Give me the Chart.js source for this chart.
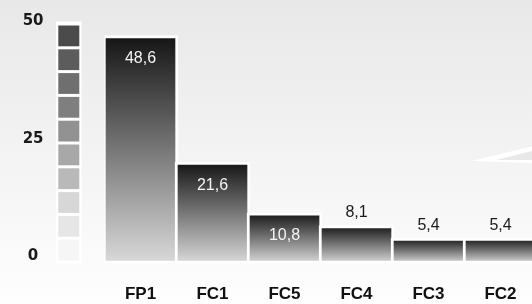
<!DOCTYPE html>
<html>
<head>
<meta charset="utf-8">
<script src="https://cdn.jsdelivr.net/npm/chart.js@4/dist/chart.umd.min.js"></script>
<style>
  html, body { margin: 0; padding: 0; overflow: hidden; background: #fff; }
  #wrap { width: 540px; height: 304px; }
</style>
</head>
<body>
<div id="wrap"><canvas id="c"></canvas></div>
<script>
const categories = ['FP1', 'FC1', 'FC5', 'FC4', 'FC3', 'FC2'];
const values = [48.6, 21.6, 10.8, 8.1, 5.4, 5.4];
const yTicks = [0, 25, 50];
// decorative scale column, bottom to top
const stepColors = ['#f6f6f6', '#e6e6e6', '#d7d7d7', '#b9b9b9', '#a8a8a8', '#929292', '#7f7f7f', '#6f6f6f', '#5c5c5c', '#4b4b4b'];

const backdrop = {
    id: 'backdrop',
    beforeDraw(chart) {
        const ctx = chart.ctx;
        const g = ctx.createLinearGradient(0, 0, 0, chart.height);
        g.addColorStop(0, '#e8e8e8');
        g.addColorStop(1, '#fefefe');
        ctx.save();
        ctx.fillStyle = g;
        ctx.fillRect(0, 0, chart.width, chart.height);
        ctx.restore();
    },
    beforeDatasetsDraw(chart) {
        const ctx = chart.ctx;
        const y = chart.scales.y;
        const left = chart.chartArea.left;
        const top = y.getPixelForValue(50) - 5;
        const bottom = y.getPixelForValue(0) - 1.5;
        ctx.save();
        ctx.fillStyle = '#ffffff';
        ctx.fillRect(left - 48.5, top - 2.5, 25.5, bottom - top + 4);
        const cell = (bottom - top) / stepColors.length;
        stepColors.forEach((c, i) => {
            ctx.fillStyle = c;
            ctx.fillRect(left - 46.2, bottom - (i + 1) * cell + 1.5, 21, cell - 3);
        });
        // white wedge at the right edge
        ctx.fillStyle = '#ffffff';
        ctx.beginPath();
        ctx.moveTo(471, 161);
        ctx.lineTo(532, 146.5);
        ctx.lineTo(532, 163);
        ctx.closePath();
        ctx.fill();
        ctx.fillStyle = '#e8e8e8';
        ctx.beginPath();
        ctx.moveTo(496, 160);
        ctx.lineTo(532, 151);
        ctx.lineTo(532, 160);
        ctx.closePath();
        ctx.fill();
        ctx.restore();
    },
    afterDatasetsDraw(chart) {
        const ctx = chart.ctx;
        const meta = chart.getDatasetMeta(0);
        ctx.save();
        ctx.font = '16px "Liberation Sans", Arial, sans-serif';
        ctx.textAlign = 'center';
        ctx.textBaseline = 'middle';
        meta.data.forEach((bar, i) => {
            const v = values[i];
            const txt = String(v).replace('.', ',');
            if (v > 10) {
                ctx.fillStyle = '#f4f4f4';
                ctx.fillText(txt, bar.x, bar.y + 23);
            } else {
                ctx.fillStyle = '#1a1a1a';
                ctx.fillText(txt, bar.x, bar.y - 13);
            }
        });
        ctx.restore();
    }
};

function barGradient(context) {
    const chart = context.chart;
    if (!chart.chartArea) return '#777';
    const y = chart.scales.y;
    const top = y.getPixelForValue(context.raw);
    const base = y.getPixelForValue(0);
    const g = chart.ctx.createLinearGradient(0, top, 0, base);
    g.addColorStop(0, '#141414');
    g.addColorStop(1, '#dadada');
    return g;
}

const chart = new Chart(document.getElementById('c').getContext('2d'), {
    type: 'bar',
    data: {
        labels: categories,
        datasets: [{
            data: values,
            backgroundColor: barGradient,
            borderColor: '#ffffff',
            borderWidth: 3,
            borderSkipped: false,
            barThickness: 75
        }]
    },
    options: {
        responsive: true,
        maintainAspectRatio: false,
        animation: false,
        layout: { padding: { top: 29, right: 3.5, bottom: 0, left: 0 } },
        scales: {
            x: {
                offset: true,
                grid: { display: false, drawTicks: false },
                border: { display: false },
                afterFit(scale) {
                    scale.height = 40.5;
                },
                ticks: {
                    padding: 20.5,
                    color: '#111',
                    font: { family: '"Liberation Sans", Arial, sans-serif', size: 17, weight: 'bold' }
                }
            },
            y: {
                min: 0,
                max: 50,
                grid: { display: false, drawTicks: false },
                border: { display: false },
                afterBuildTicks(scale) {
                    scale.ticks = yTicks.map(v => ({ value: v }));
                },
                afterFit(scale) {
                    scale.width = 104.5;
                    scale.paddingTop = 0;
                    scale.paddingBottom = 0;
                },
                ticks: {
                    padding: 61,
                    crossAlign: 'center',
                    labelOffset: -7.5,
                    color: '#1a1a1a',
                    font: { family: '"DejaVu Sans", sans-serif', size: 15, weight: 'bold' }
                }
            }
        },
        plugins: {
            legend: { display: false },
            tooltip: { enabled: false }
        }
    },
    plugins: [backdrop]
});
</script>
</body>
</html>
